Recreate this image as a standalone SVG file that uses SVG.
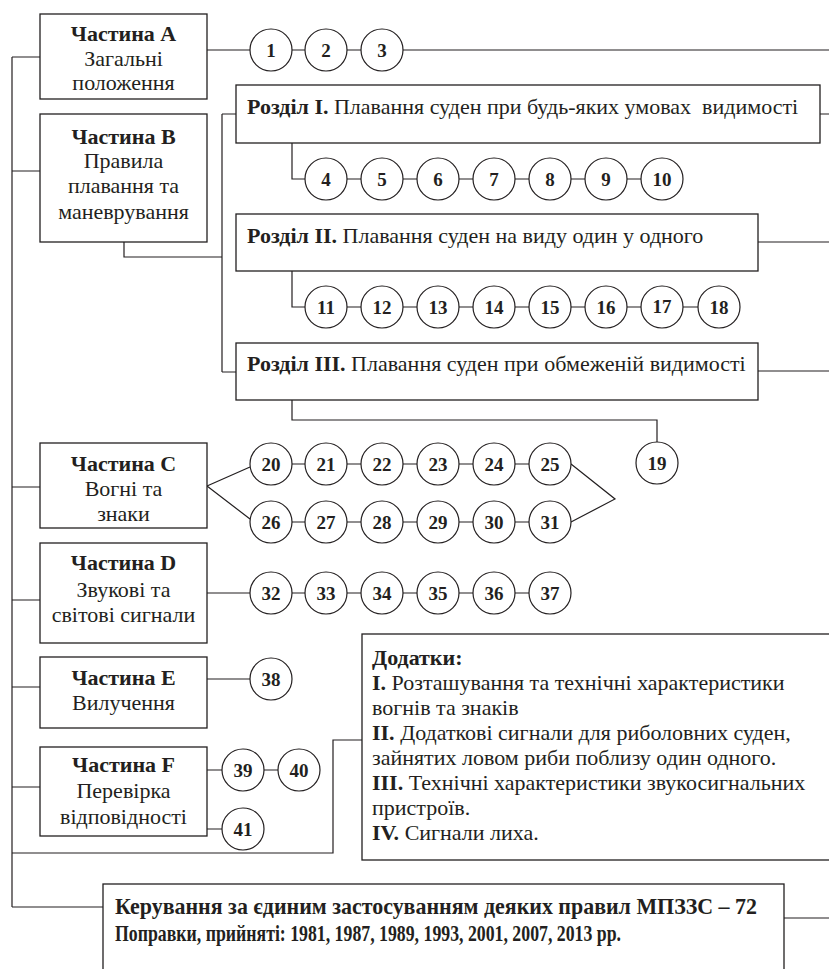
<svg xmlns="http://www.w3.org/2000/svg" width="829" height="969" viewBox="0 0 829 969" font-family="'Liberation Serif','Times New Roman',serif">
<style>
.b{fill:#fff;stroke:#231f20;stroke-width:1.3}
.c{fill:#fff;stroke:#231f20;stroke-width:1.2}
.l{fill:none;stroke:#231f20;stroke-width:1.2}
text{font-family:"Liberation Serif","Times New Roman",serif;fill:#231f20}
.t{font-size:22px;text-anchor:middle}
.h{font-weight:bold}
.n{font-size:19px;font-weight:bold;text-anchor:middle}
.s{font-size:22px}
.d{font-size:22px}
.k{font-size:24px;font-weight:bold}
</style>
<g id="connectors">
<path class="l" d="M12 57V907M12 57H40M12 171H40M12 487H40M12 600H40M12 687H40M12 787H40M12 907H103M12 853H333V740H362"/>
<path class="l" d="M207 50H250M292 50H305M347 50H361M403 50H829"/>
<path class="l" d="M124 242V257H222M222 114V372M222 114H236M222 372H236M820 114H829M758 242H829M758 371H829"/>
<path class="l" d="M292 143V179H305M347 179H361M403 179H417M459 179H473M515 179H529M571 179H585M627 179H641"/>
<path class="l" d="M292 271V307H305M347 307H361M403 307H417M459 307H473M515 307H529M571 307H585M627 307H641M683 307H698"/>
<path class="l" d="M292 400V420H657V442"/>
<path class="l" d="M207 486L250 467M207 486L250 519M292 464H305M347 464H361M403 464H417M459 464H473M515 464H529M571 464L615 499L571 522M292 522H305M347 522H361M403 522H417M459 522H473M515 522H529"/>
<path class="l" d="M207 593H250M292 593H305M347 593H361M403 593H417M459 593H473M515 593H529"/>
<path class="l" d="M207 679H250M207 770H222M264 770H278M207 829H222"/>
<path class="l" d="M784 918H829"/>
</g>
<g id="partA"><rect class="b" x="40" y="14" width="167" height="85"/><text class="t h" x="123.5" y="41">Частина А</text><text class="t" x="123.5" y="66">Загальні</text><text class="t" x="123.5" y="90">положення</text></g>
<g id="partB"><rect class="b" x="40" y="114" width="167" height="128"/><text class="t h" x="123.5" y="144">Частина B</text><text class="t" x="123.5" y="168">Правила</text><text class="t" x="123.5" y="193">плавання та</text><text class="t" x="123.5" y="219">маневрування</text></g>
<g id="partC"><rect class="b" x="40" y="443" width="167" height="85"/><text class="t h" x="123.5" y="471">Частина С</text><text class="t" x="123.5" y="496">Вогні та</text><text class="t" x="123.5" y="521">знаки</text></g>
<g id="partD"><rect class="b" x="40" y="543" width="167" height="100"/><text class="t h" x="123.5" y="570">Частина D</text><text class="t" x="123.5" y="597">Звукові та</text><text class="t" x="123.5" y="622">світові сигнали</text></g>
<g id="partE"><rect class="b" x="40" y="657" width="167" height="71"/><text class="t h" x="123.5" y="685">Частина E</text><text class="t" x="123.5" y="710">Вилучення</text></g>
<g id="partF"><rect class="b" x="40" y="747" width="167" height="89"/><text class="t h" x="123.5" y="772">Частина F</text><text class="t" x="123.5" y="798">Перевірка</text><text class="t" x="123.5" y="824">відповідності</text></g>
<g id="section1"><rect class="b" x="236" y="85" width="584" height="58"/><text class="s" x="247" y="114" xml:space="preserve"><tspan class="h">Розділ I.</tspan> Плавання суден при будь-яких умовах  видимості</text></g>
<g id="section2"><rect class="b" x="236" y="214" width="522" height="57"/><text class="s" x="247" y="243"><tspan class="h">Розділ II.</tspan> Плавання суден на виду один у одного</text></g>
<g id="section3"><rect class="b" x="236" y="343" width="522" height="57"/><text class="s" x="247" y="371"><tspan class="h">Розділ III.</tspan> Плавання суден при обмеженій видимості</text></g>
<g id="annexes"><rect class="b" x="362" y="634" width="480" height="226"/>
<text class="d" x="372" y="665"><tspan class="h">Додатки:</tspan></text>
<text class="d" x="372" y="690"><tspan class="h">I.</tspan> Розташування та технічні характеристики</text>
<text class="d" x="372" y="715">вогнів та знаків</text>
<text class="d" x="372" y="740"><tspan class="h">II.</tspan> Додаткові сигнали для риболовних суден,</text>
<text class="d" x="372" y="765">зайнятих ловом риби поблизу один одного.</text>
<text class="d" x="372" y="790"><tspan class="h">III.</tspan> Технічні характеристики звукосигнальних</text>
<text class="d" x="372" y="815">пристроїв.</text>
<text class="d" x="372" y="840"><tspan class="h">IV.</tspan> Сигнали лиха.</text>
</g>
<g id="guidance"><rect class="b" x="103" y="884" width="681" height="110"/>
<text class="k" x="115" y="914" textLength="642" lengthAdjust="spacingAndGlyphs">Керування за єдиним застосуванням деяких правил МПЗЗС – 72</text>
<text class="k" x="115" y="941" textLength="506" lengthAdjust="spacingAndGlyphs">Поправки, прийняті: 1981, 1987, 1989, 1993, 2001, 2007, 2013 рр.</text>
</g>
<g id="rules">
<g id="r1"><circle class="c" cx="271" cy="50" r="21"/><text class="n" x="271" y="57">1</text></g>
<g id="r2"><circle class="c" cx="326" cy="50" r="21"/><text class="n" x="326" y="57">2</text></g>
<g id="r3"><circle class="c" cx="382" cy="50" r="21"/><text class="n" x="382" y="57">3</text></g>
<g id="r4"><circle class="c" cx="326" cy="179" r="21"/><text class="n" x="326" y="186">4</text></g>
<g id="r5"><circle class="c" cx="382" cy="179" r="21"/><text class="n" x="382" y="186">5</text></g>
<g id="r6"><circle class="c" cx="438" cy="179" r="21"/><text class="n" x="438" y="186">6</text></g>
<g id="r7"><circle class="c" cx="494" cy="179" r="21"/><text class="n" x="494" y="186">7</text></g>
<g id="r8"><circle class="c" cx="550" cy="179" r="21"/><text class="n" x="550" y="186">8</text></g>
<g id="r9"><circle class="c" cx="606" cy="179" r="21"/><text class="n" x="606" y="186">9</text></g>
<g id="r10"><circle class="c" cx="662" cy="179" r="21"/><text class="n" x="662" y="186">10</text></g>
<g id="r11"><circle class="c" cx="326" cy="307" r="21"/><text class="n" x="326" y="314">11</text></g>
<g id="r12"><circle class="c" cx="382" cy="307" r="21"/><text class="n" x="382" y="314">12</text></g>
<g id="r13"><circle class="c" cx="438" cy="307" r="21"/><text class="n" x="438" y="314">13</text></g>
<g id="r14"><circle class="c" cx="494" cy="307" r="21"/><text class="n" x="494" y="314">14</text></g>
<g id="r15"><circle class="c" cx="550" cy="307" r="21"/><text class="n" x="550" y="314">15</text></g>
<g id="r16"><circle class="c" cx="606" cy="307" r="21"/><text class="n" x="606" y="314">16</text></g>
<g id="r17"><circle class="c" cx="662" cy="307" r="21"/><text class="n" x="662" y="313">17</text></g>
<g id="r18"><circle class="c" cx="719" cy="307" r="21"/><text class="n" x="719" y="314">18</text></g>
<g id="r19"><circle class="c" cx="657" cy="463" r="21"/><text class="n" x="657" y="470">19</text></g>
<g id="r20"><circle class="c" cx="271" cy="464" r="21"/><text class="n" x="271" y="471">20</text></g>
<g id="r21"><circle class="c" cx="326" cy="464" r="21"/><text class="n" x="326" y="471">21</text></g>
<g id="r22"><circle class="c" cx="382" cy="464" r="21"/><text class="n" x="382" y="471">22</text></g>
<g id="r23"><circle class="c" cx="438" cy="464" r="21"/><text class="n" x="438" y="471">23</text></g>
<g id="r24"><circle class="c" cx="494" cy="464" r="21"/><text class="n" x="494" y="471">24</text></g>
<g id="r25"><circle class="c" cx="550" cy="464" r="21"/><text class="n" x="550" y="471">25</text></g>
<g id="r26"><circle class="c" cx="271" cy="522" r="21"/><text class="n" x="271" y="529">26</text></g>
<g id="r27"><circle class="c" cx="326" cy="522" r="21"/><text class="n" x="326" y="529">27</text></g>
<g id="r28"><circle class="c" cx="382" cy="522" r="21"/><text class="n" x="382" y="529">28</text></g>
<g id="r29"><circle class="c" cx="438" cy="522" r="21"/><text class="n" x="438" y="529">29</text></g>
<g id="r30"><circle class="c" cx="494" cy="522" r="21"/><text class="n" x="494" y="529">30</text></g>
<g id="r31"><circle class="c" cx="550" cy="522" r="21"/><text class="n" x="550" y="529">31</text></g>
<g id="r32"><circle class="c" cx="271" cy="593" r="21"/><text class="n" x="271" y="600">32</text></g>
<g id="r33"><circle class="c" cx="326" cy="593" r="21"/><text class="n" x="326" y="600">33</text></g>
<g id="r34"><circle class="c" cx="382" cy="593" r="21"/><text class="n" x="382" y="600">34</text></g>
<g id="r35"><circle class="c" cx="438" cy="593" r="21"/><text class="n" x="438" y="600">35</text></g>
<g id="r36"><circle class="c" cx="494" cy="593" r="21"/><text class="n" x="494" y="600">36</text></g>
<g id="r37"><circle class="c" cx="550" cy="593" r="21"/><text class="n" x="550" y="600">37</text></g>
<g id="r38"><circle class="c" cx="271" cy="679" r="21"/><text class="n" x="271" y="686">38</text></g>
<g id="r39"><circle class="c" cx="243" cy="770" r="21"/><text class="n" x="243" y="777">39</text></g>
<g id="r40"><circle class="c" cx="299" cy="770" r="21"/><text class="n" x="299" y="777">40</text></g>
<g id="r41"><circle class="c" cx="243" cy="829" r="21"/><text class="n" x="243" y="836">41</text></g>
</g>
</svg>
